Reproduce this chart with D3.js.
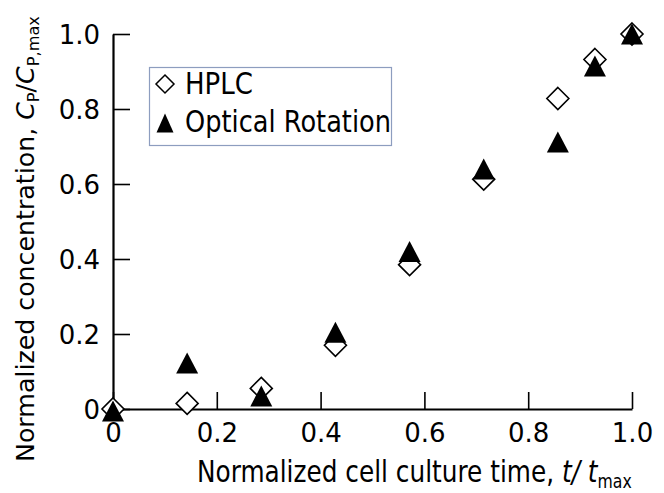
<!DOCTYPE html>
<html>
<head>
<meta charset="utf-8">
<script src="https://cdn.jsdelivr.net/npm/d3@7"></script>
<style>
body { margin: 0; background: #fff; }
text { font-family: "DejaVu Sans", Verdana, sans-serif; fill: #000; }
</style>
</head>
<body>
<script>
// dimensions
const width = 664;
const height = 493;

const margin = {
    top: 34,
    right: 32,
    bottom: 84,
    left: 113
};

// data
const times = [0, 1 / 7, 2 / 7, 3 / 7, 4 / 7, 5 / 7, 6 / 7, 6.5 / 7, 1];
const hplc = [0, 0.015, 0.055, 0.17, 0.385, 0.613, 0.828, 0.932, 1.0];
const optical = [-0.005, 0.123, 0.035, 0.205, 0.42, 0.64, 0.712, 0.915, 1.0];
const xTicks = [0, 0.2, 0.4, 0.6, 0.8, 1.0];
const yTicks = [0, 0.2, 0.4, 0.6, 0.8, 1.0];
const seriesNames = ["HPLC", "Optical Rotation"];

const tickFormat = d => d === 0 ? "0" : d3.format(".1f")(d);

// marker shapes
const diamond = r => "M0," + (-r) + "L" + r + ",0L0," + r + "L" + (-r) + ",0Z";
const triangle = (w, h) => "M0," + (-h / 2) + "L" + (w / 2) + "," + (h / 2) + "L" + (-w / 2) + "," + (h / 2) + "Z";

let svg = d3.select("body")
    .append("svg")
    .attr("width", width)
    .attr("height", height);

let x = d3.scaleLinear()
    .domain([0, 1])
    .range([margin.left, width - margin.right]);
let y = d3.scaleLinear()
    .domain([0, 1])
    .range([height - margin.bottom, margin.top]);

// axes, ticks pointing inwards
let xAxis = svg.append("g")
    .attr("transform", "translate(0," + y(0) + ")")
    .call(d3.axisBottom(x)
        .tickValues(xTicks)
        .tickFormat(tickFormat)
        .tickSizeInner(-17)
        .tickSizeOuter(0)
        .tickPadding(15));

let yAxis = svg.append("g")
    .attr("transform", "translate(" + x(0) + ",0)")
    .call(d3.axisLeft(y)
        .tickValues(yTicks)
        .tickFormat(tickFormat)
        .tickSizeInner(-17)
        .tickSizeOuter(0)
        .tickPadding(13));

[xAxis, yAxis].forEach(function(a) {
    a.select(".domain").attr("stroke", "#000").attr("stroke-width", 2.2);
    a.selectAll(".tick line").attr("stroke", "#000").attr("stroke-width", 1.6);
    a.selectAll(".tick text")
        .attr("font-size", 26)
        .attr("font-family", "DejaVu Sans, Verdana, sans-serif")
        .attr("fill", "#000");
});
yAxis.selectAll(".tick text").attr("dy", "0.36em");

// points: diamonds underneath, triangles on top
svg.append("g")
    .selectAll("path")
    .data(times)
    .enter()
    .append("path")
    .attr("d", diamond(11))
    .attr("transform", (d, i) => "translate(" + x(d) + "," + y(hplc[i]) + ")")
    .attr("fill", "#fff")
    .attr("stroke", "#000")
    .attr("stroke-width", 1.6);

svg.append("g")
    .selectAll("path")
    .data(times)
    .enter()
    .append("path")
    .attr("d", triangle(22, 21))
    .attr("transform", (d, i) => "translate(" + x(d) + "," + y(optical[i]) + ")")
    .attr("fill", "#000");

// legend
let legend = svg.append("g");
legend.append("rect")
    .attr("x", 149.5)
    .attr("y", 67.5)
    .attr("width", 242)
    .attr("height", 78)
    .attr("fill", "#fff")
    .attr("stroke", "#8d9dbf")
    .attr("stroke-width", 1.2);
legend.append("path")
    .attr("d", diamond(9))
    .attr("transform", "translate(165,84)")
    .attr("fill", "#fff")
    .attr("stroke", "#000")
    .attr("stroke-width", 1.5);
legend.append("path")
    .attr("d", triangle(17, 19))
    .attr("transform", "translate(165,123)")
    .attr("fill", "#000");
legend.append("text")
    .attr("x", 185)
    .attr("y", 94)
    .attr("font-size", 31)
    .attr("textLength", 68)
    .attr("lengthAdjust", "spacingAndGlyphs")
    .text(seriesNames[0]);
legend.append("text")
    .attr("x", 185)
    .attr("y", 132)
    .attr("font-size", 31)
    .attr("textLength", 206)
    .attr("lengthAdjust", "spacingAndGlyphs")
    .text(seriesNames[1]);

// x axis title, squeezed to fit its span
let xTitle = svg.append("text")
    .attr("x", 0)
    .attr("y", 0)
    .attr("font-size", 30);
xTitle.append("tspan").text("Normalized cell culture time, ");
xTitle.append("tspan").attr("font-style", "italic").text("t/ t");
xTitle.append("tspan").attr("font-size", 19).attr("dy", 6).text("max");
let xw = xTitle.node().getComputedTextLength();
xTitle.attr("transform", "translate(197,482) scale(" + (435 / xw) + ",1)");

// y axis title
let yTitle = svg.append("text")
    .attr("x", 0)
    .attr("y", 0)
    .attr("font-size", 25);
yTitle.append("tspan").text("Normalized concentration, ");
yTitle.append("tspan").attr("font-style", "italic").text("C");
yTitle.append("tspan").attr("font-size", 16).attr("dy", 5).text("P");
yTitle.append("tspan").attr("dy", -5).text("/");
yTitle.append("tspan").attr("font-style", "italic").text("C");
yTitle.append("tspan").attr("font-size", 16).attr("dy", 5).text("P,max");
let yw = yTitle.node().getComputedTextLength();
yTitle.attr("transform", "translate(34,462) rotate(-90) scale(" + (446 / yw) + ",1)");
</script>
</body>
</html>
